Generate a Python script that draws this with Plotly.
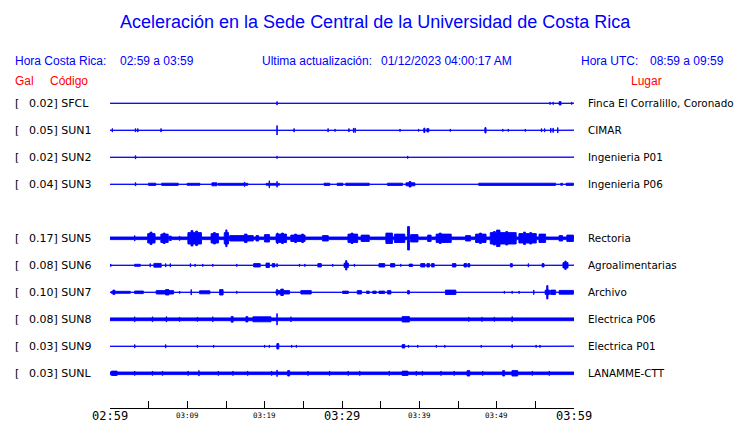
import numpy as np
import plotly.graph_objects as go

# ---------------- data ----------------
codes = ["SFCL", "SUN1", "SUN2", "SUN3", "SUN5", "SUN6", "SUN7", "SUN8", "SUN9", "SUNL"]
places = ["Finca El Corralillo, Coronado", "CIMAR", "Ingenieria P01", "Ingenieria P06",
          "Rectoria", "Agroalimentarias", "Archivo", "Electrica P06", "Electrica P01", "LANAMME-CTT"]
gal = [0.02, 0.05, 0.02, 0.04, 0.17, 0.08, 0.10, 0.08, 0.03, 0.03]
slots = [0, 1, 2, 3, 5, 6, 7, 8, 9, 10]
# background noise half-amplitude of each trace (px)
noise = [0.1, 0.1, 0.1, 0.1, 1.3, 0.1, 0.1, 1.4, 0.1, 1.3]

# bursts: (start minute, end minute, half-amplitude px), minutes after 02:59
SFCL_ev = [(7.5, 7.5, 1), (21.6, 21.6, 2), (56.9, 56.9, 1.5), (57.3, 57.3, 1.5), (58.1, 58.3, 2), (59.7, 59.7, 1.5)]
SUN1_ev = [(0.3, 0.3, 2), (3.3, 3.3, 2), (3.6, 3.6, 2), (6.6, 6.6, 2), (13.8, 13.8, 1), (21.6, 21.6, 5),
           (23.8, 23.8, 2), (28.2, 28.2, 2), (29.1, 29.1, 1.5), (30.9, 30.9, 2), (31.5, 31.5, 2.5),
           (31.7, 31.7, 2.5), (37.5, 37.5, 1.5), (39.9, 39.9, 1.5), (40.6, 40.7, 2.5), (41.0, 41.2, 2),
           (44.0, 44.0, 1.5), (48.5, 48.6, 3), (50.8, 50.8, 1.5), (51.5, 51.5, 1.5), (53.7, 53.7, 1.5),
           (55.8, 55.8, 2), (56.2, 56.2, 2), (57.0, 57.0, 2.5), (57.3, 57.3, 2.5), (57.9, 57.9, 3)]
SUN2_ev = [(3.3, 3.3, 2), (20.6, 20.6, 1), (21.6, 21.6, 1.5), (38.5, 38.5, 1.5)]
SUN3_ev = [(1.0, 1.3, 1.0), (1.6, 2.2, 1.0), (3.3, 3.3, 2), (5.0, 5.9, 1.4), (6.7, 8.8, 1.4), (7.2, 7.5, 2.0),
           (10.0, 11.6, 1.3), (12.0, 12.6, 1.0), (13.2, 13.8, 1.8), (14.0, 17.8, 1.3), (17.4, 17.4, 2.5),
           (18.7, 19.4, 1.0), (20.2, 21.9, 1.2), (20.6, 20.6, 3.8), (21.6, 21.6, 3.2), (22.5, 23.0, 1.0),
           (23.5, 24.2, 1.0), (24.8, 25.4, 1.0), (25.8, 26.1, 1.0), (27.7, 28.4, 1.4), (29.4, 30.1, 1.4),
           (30.5, 33.5, 1.4), (33.9, 34.2, 1.0), (34.8, 35.5, 1.0), (35.9, 37.8, 1.4), (38.3, 39.4, 1.8),
           (38.7, 38.9, 3), (40.0, 40.6, 1.0), (41.0, 41.8, 1.0), (42.2, 43.0, 1.0), (43.4, 44.2, 1.0),
           (44.6, 45.3, 1.0), (45.7, 46.5, 1.0), (47.7, 51.6, 1.4), (51.6, 57.6, 1.4), (58.3, 58.5, 1.3),
           (59.0, 59.9, 1.4)]
SUN5_ev = [(3.2, 3.2, 3), (4.9, 5.8, 5), (5.2, 5.4, 6.5), (6.6, 7.5, 4.5), (6.9, 7.1, 5.5), (7.7, 7.9, 2.5),
           (9.0, 9.0, 2.5), (10.1, 11.8, 6), (10.5, 10.7, 8), (11.1, 11.3, 7.5), (13.1, 14.0, 5),
           (13.4, 13.6, 6), (14.8, 15.3, 6), (15.0, 15.1, 8.7), (15.5, 18.5, 3), (16.0, 16.3, 3.5),
           (17.4, 17.7, 4.5), (18.9, 19.2, 3), (20.0, 20.6, 4), (21.5, 22.8, 4.5), (21.6, 21.7, 5.5),
           (22.2, 22.4, 5.5), (23.4, 25.2, 3.5), (23.9, 24.1, 4.5), (24.8, 25.0, 4.5), (27.5, 28.2, 3),
           (30.8, 32.0, 4.5), (31.2, 31.4, 5.5), (32.5, 33.5, 3.5), (35.7, 36.5, 5.5), (36.8, 38.1, 4.5),
           (38.5, 38.7, 12), (38.9, 39.8, 4), (41.1, 41.5, 3.5), (42.2, 44.1, 4.5), (42.6, 42.8, 5.5),
           (46.0, 46.6, 3), (47.3, 48.6, 4.5), (47.8, 48.0, 5.5), (49.2, 52.5, 6), (50.0, 50.4, 8.5),
           (49.6, 49.8, 7), (51.2, 51.4, 7), (52.9, 55.1, 5), (53.5, 53.7, 6.5), (54.3, 54.5, 6),
           (55.5, 56.3, 4.5), (58.1, 58.5, 3), (59.1, 59.9, 3.5)]
SUN6_ev = [(0.1, 0.1, 1.5), (3.2, 3.9, 1.3), (5.2, 5.2, 2), (5.7, 6.6, 2.2), (7.2, 7.2, 2), (7.8, 7.8, 2),
           (10.4, 10.4, 2), (11.0, 11.0, 1.5), (12.0, 12.0, 1.5), (13.3, 13.3, 1.5), (16.4, 16.4, 1.5),
           (18.6, 19.4, 2), (20.2, 20.6, 2.5), (21.0, 21.3, 2), (21.6, 21.6, 2), (24.5, 24.5, 1.5),
           (25.2, 25.2, 1.5), (26.9, 27.3, 2), (28.8, 28.8, 1.5), (30.3, 30.8, 2.5), (30.5, 30.6, 5),
           (31.6, 31.6, 1.5), (34.8, 35.5, 2), (36.3, 36.8, 2), (37.6, 37.6, 1.5), (38.7, 39.1, 1.5),
           (40.2, 40.7, 2), (41.0, 41.3, 2), (41.6, 41.9, 2), (44.3, 44.7, 2), (45.8, 46.1, 2),
           (46.3, 46.5, 2), (48.8, 48.8, 1), (51.8, 52.0, 2), (54.1, 54.1, 2), (55.9, 56.1, 2),
           (58.6, 59.2, 3), (58.85, 58.95, 4.5)]
SUN7_ev = [(0.2, 2.6, 1.3), (0.4, 0.6, 2.5), (1.0, 1.2, 2), (3.2, 4.3, 1.6), (6.0, 8.2, 2), (7.2, 7.6, 3),
           (9.0, 9.0, 1.5), (10.5, 10.5, 3), (11.6, 12.9, 1.8), (14.2, 14.6, 3), (16.4, 16.4, 1.5),
           (21.5, 23.2, 2), (21.6, 21.6, 3.5), (22.1, 22.4, 3.5), (24.7, 26.0, 2), (30.1, 30.8, 1.5),
           (32.0, 32.5, 2), (33.2, 33.5, 1.5), (34.0, 34.4, 1.5), (34.8, 35.5, 1.5), (35.9, 36.3, 2),
           (38.5, 38.7, 2), (43.4, 44.7, 2.5), (51.0, 51.0, 1.5), (52.0, 52.0, 1.5), (52.9, 52.9, 1.5),
           (54.8, 54.8, 2.5), (56.3, 56.8, 2.5), (56.5, 56.6, 7), (57.0, 57.6, 2.5), (58.1, 59.9, 2.2)]
SUN8_ev = [(3.2, 3.2, 2.8), (5.5, 5.5, 2.8), (7.3, 7.3, 3), (9.0, 9.0, 2.5), (11.3, 11.3, 2.5),
           (13.3, 13.3, 2.8), (15.7, 15.9, 3.2), (17.6, 17.8, 3), (18.5, 20.8, 2.8), (19.0, 19.1, 3.2),
           (21.6, 21.6, 6), (23.4, 23.4, 2.8), (37.8, 38.7, 3), (46.4, 46.4, 2.5), (48.1, 48.1, 2.5),
           (49.7, 49.7, 2.5), (52.0, 52.0, 3)]
SUN9_ev = [(3.2, 3.2, 2), (7.2, 7.2, 2), (11.3, 11.3, 1.5), (13.4, 13.4, 1.5), (20.0, 20.0, 1.5),
           (20.6, 20.6, 1.5), (21.6, 21.8, 3), (23.5, 23.5, 1.5), (24.1, 24.1, 1.5), (37.8, 38.1, 2),
           (38.6, 38.6, 1.5), (39.8, 39.8, 1.5), (42.2, 42.2, 1.5), (43.3, 43.3, 1.5), (48.0, 48.0, 1.5),
           (52.0, 52.0, 2), (55.1, 55.1, 1.5), (55.6, 55.6, 1.5)]
SUNL_ev = [(0.2, 0.9, 2.5), (3.2, 3.2, 2.5), (5.5, 5.5, 2.5), (6.8, 6.8, 2.5), (10.1, 10.1, 2.5),
           (11.5, 11.5, 3), (14.0, 14.0, 2.5), (15.9, 15.9, 2.5), (17.8, 17.8, 2.5), (20.9, 20.9, 2.5),
           (21.6, 21.6, 3.5), (23.0, 23.2, 3), (25.6, 25.6, 2.5), (28.4, 28.4, 2.5), (30.8, 30.8, 2.5),
           (32.3, 32.3, 2.5), (36.1, 36.1, 2.5), (37.8, 38.5, 2.5), (39.6, 39.6, 2.5), (40.4, 40.4, 2.5),
           (42.8, 42.8, 2.5), (44.5, 44.5, 2.5), (46.2, 46.5, 3), (48.2, 48.2, 2.5), (50.8, 51.0, 3),
           (52.0, 52.7, 3), (54.6, 54.6, 2.5), (56.8, 56.8, 2.5)]
events = [SFCL_ev, SUN1_ev, SUN2_ev, SUN3_ev, SUN5_ev, SUN6_ev, SUN7_ev, SUN8_ev, SUN9_ev, SUNL_ev]

tick_minutes = list(range(0, 61, 5))
tick_labels = {0: "02:59", 10: "03:09", 20: "03:19", 30: "03:29", 40: "03:39", 50: "03:49", 60: "03:59"}
major_labels = ["02:59", "03:29", "03:59"]

# ---------------- layout geometry ----------------
W, H = 740, 423
ML, MR, MT, MB = 110, 166, 90, 15
PW, PH = W - ML - MR, H - MT - MB
ROW_PX = 27.0
ROW0_PX = 103.3
y_top = (MT - ROW0_PX) / ROW_PX
y_bot = (H - MB - ROW0_PX) / ROW_PX

def px_x(px):
    return (px - ML) / PW

def px_y(py):
    return (H - MB - py) / PH

BLUE = "#0000ff"
RED = "#ff0000"

fig = go.Figure()
t = np.arange(0, 60.0001, 0.02)
for ev, s, nz in zip(events, slots, noise):
    env = np.full_like(t, nz)
    for a, b, amp in ev:
        m = (t >= a - 0.03) & (t <= b + 0.03)
        env[m] = np.maximum(env[m], amp - 0.3)
    xs = np.concatenate([t, t[::-1]])
    ys = s + np.concatenate([-env, env[::-1]]) / ROW_PX
    fig.add_trace(go.Scatter(x=xs, y=ys, mode="lines", fill="toself", fillcolor=BLUE,
                             line=dict(color=BLUE, width=0.9), hoverinfo="skip", showlegend=False))

ann = []
def text(px, py, s, size, color="black", family="Liberation Sans", anchor="left"):
    ann.append(dict(x=px_x(px), y=px_y(py), xref="paper", yref="paper", text=s, showarrow=False,
                    xanchor=anchor, yanchor="middle", font=dict(size=size, color=color, family=family)))

text(375.5, 22, "Aceleración en la Sede Central de la Universidad de Costa Rica", 18, BLUE, anchor="center")
text(13, 61, "Hora Costa Rica:", 12, BLUE)
text(118, 61, "02:59 a 03:59", 12, BLUE)
text(260, 61, "Ultima actualización:", 12, BLUE)
text(379, 61, "01/12/2023 04:00:17 AM", 12, BLUE)
text(579, 61, "Hora UTC:", 12, BLUE)
text(648, 61, "08:59 a 09:59", 12, BLUE)
text(13, 81, "Gal", 12, RED)
text(48, 81, "Código", 12, RED)
text(629, 81, "Lugar", 12, RED)

for code, place, g, s in zip(codes, places, gal, slots):
    ann.append(dict(x=px_x(13), y=s, xref="paper", yref="y", text="[", showarrow=False,
                    xanchor="left", yanchor="middle", font=dict(size=11, color="black", family="DejaVu Sans")))
    ann.append(dict(x=px_x(26.5), y=s, xref="paper", yref="y", text=f"{g:.2f}] {code}", showarrow=False,
                    xanchor="left", yanchor="middle", font=dict(size=11, color="black", family="DejaVu Sans")))
    ann.append(dict(x=px_x(586), y=s, xref="paper", yref="y", text=place, showarrow=False,
                    xanchor="left", yanchor="middle", font=dict(size=10.4, color="black", family="DejaVu Sans")))

for m, lab in tick_labels.items():
    big = lab in major_labels
    ann.append(dict(x=m, y=px_y(416 if big else 415), xref="x", yref="paper", text=lab, showarrow=False,
                    xanchor="center", yanchor="middle",
                    font=dict(size=12 if big else 7.5, color="black", family="DejaVu Sans Mono")))

fig.update_layout(
    width=W, height=H, margin=dict(l=ML, r=MR, t=MT, b=MB, autoexpand=False),
    paper_bgcolor="white", plot_bgcolor="white", showlegend=False, annotations=ann,
    xaxis=dict(range=[0, 60], showgrid=False, zeroline=False, showline=True, linecolor="black",
               linewidth=1, ticks="inside", ticklen=7, tickwidth=1, tickcolor="black",
               tickvals=tick_minutes, showticklabels=False, automargin=False, fixedrange=True),
    yaxis=dict(range=[y_bot, y_top], visible=False, automargin=False, fixedrange=True),
)
fig.write_html("out.html", config={"displayModeBar": False},
               post_script="document.body.style.margin='0';document.body.style.padding='0';")
